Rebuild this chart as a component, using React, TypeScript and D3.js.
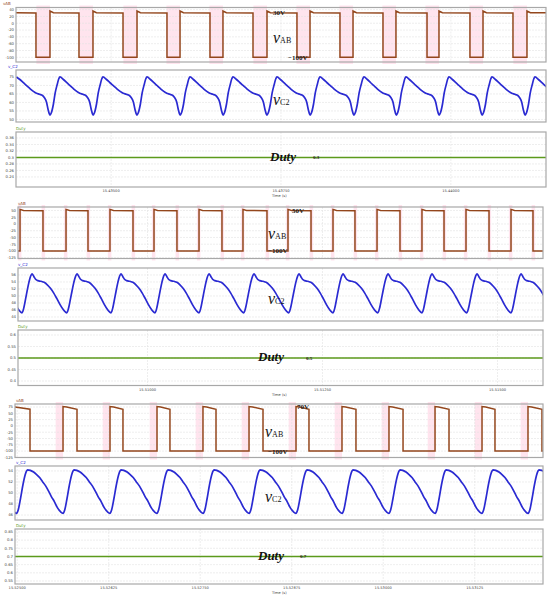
import * as d3 from 'd3'
import React from 'react'

type Pt = [number, number]

// ---- group 1 : duty 0.3 (time in ms from window start) ----
const g1TimeTicks = [1.4, 3.9, 6.4]
const g1TimeLabels = ['15.43500', '15.43750', '15.44000']
const g1Rises = [0.5, 1.133, 1.781, 2.414, 3.046, 3.694, 4.327, 4.96, 5.592, 6.225, 6.873, 7.52]
const g1Falls = [0.294, 0.927, 1.575, 2.222, 2.855, 3.488, 4.135, 4.768, 5.401, 6.049, 6.681, 7.314]
const g1High = [36, 31, 30] // after rise, settled, before fall
const g1Low = -100
const g1Peaks = [0.006, 0.647, 1.28, 1.928, 2.561, 3.193, 3.841, 4.474, 5.121, 5.739, 6.372, 7.005, 7.638]
const g1Shape = [
  [0, 75.0], [0.08, 73.5], [0.16, 71.6], [0.23, 70.0], [0.3, 68.4], [0.39, 66.5], [0.46, 65.4],
  [0.53, 64.8], [0.6, 64.1], [0.64, 62.9], [0.69, 60.3], [0.73, 55.6], [0.77, 52.6], [0.8, 53.8],
  [0.85, 59.1], [0.89, 65.6], [0.94, 70.9], [0.975, 74.1],
]
const g1Duty = 0.3
const g1VabTicks = [40, 20, 0, -20, -40, -60, -80, -100]
const g1Vc2Ticks = [75, 70, 65, 60, 55, 50]
const g1DutyTicks = [0.36, 0.34, 0.32, 0.3, 0.28, 0.26, 0.24]

// ---- group 2 : duty 0.5 ----
const g2TimeTicks = [1.85, 4.35, 6.85]
const g2TimeLabels = ['15.51000', '15.51250', '15.51500']
const g2Rises = [0.029, 0.686, 1.314, 1.943, 2.586, 3.214, 3.857, 4.5, 5.129, 5.771, 6.4, 7.043]
const g2Falls = [0.357, 1.0, 1.643, 2.271, 2.914, 3.557, 4.186, 4.814, 5.457, 6.086, 6.729, 7.357]
const g2High = [54, 50, 49]
const g2Low = -100
const g2Peaks = [-0.429, 0.2, 0.843, 1.471, 2.1, 2.729, 3.371, 4.014, 4.643, 5.286, 5.914, 6.557, 7.186]
const g2Shape = [
  [0, 56.3], [0.04, 55.6], [0.08, 54.8], [0.13, 54.4], [0.2, 54.2], [0.27, 53.9], [0.34, 53.2],
  [0.41, 52.2], [0.48, 50.9], [0.55, 49.3], [0.62, 47.6], [0.69, 46.2], [0.745, 45.4], [0.775, 45.2],
  [0.81, 46.4], [0.87, 50.2], [0.93, 53.9], [0.97, 55.7],
]
const g2Duty = 0.5
const g2VabTicks = [50, 25, 0, -25, -50, -75, -100, -125]
const g2Vc2Ticks = [56, 54, 52, 50, 48, 46, 44]
const g2DutyTicks = [0.6, 0.55, 0.5, 0.45, 0.4]

// ---- group 3 : duty 0.7 ----
const g3TimeTicks = [0.03, 1.28, 2.53, 3.78, 5.03, 6.28]
const g3TimeLabels = ['15.52500', '15.52625', '15.52750', '15.52875', '15.53000', '15.53125']
const g3Rises = [0.656, 1.298, 1.94, 2.568, 3.197, 3.839, 4.467, 5.109, 5.738, 6.38, 7.008]
const g3Falls = [0.205, 0.847, 1.475, 2.117, 2.746, 3.388, 4.016, 4.658, 5.301, 5.929, 6.557, 7.199]
const g3High = [77, 75, 66]
const g3Low = -100
const g3Peaks = [-0.466, 0.171, 0.806, 1.448, 2.09, 2.719, 3.347, 3.989, 4.617, 5.26, 5.888, 6.53, 7.158]
const g3Shape = [
  [0, 54.2], [0.06, 54.1], [0.13, 53.8], [0.19, 53.4], [0.26, 52.8], [0.32, 52.1], [0.39, 51.3],
  [0.45, 50.4], [0.51, 49.4], [0.58, 48.4], [0.64, 47.4], [0.71, 46.6], [0.765, 46.3], [0.8, 46.9],
  [0.85, 49.0], [0.9, 51.4], [0.95, 53.3], [0.98, 54.0],
]
const g3Duty = 0.7
const g3VabTicks = [75, 50, 25, 0, -25, -50, -75, -100, -125]
const g3Vc2Ticks = [54, 52, 50, 48, 46]
const g3DutyTicks = [0.85, 0.8, 0.75, 0.7, 0.65, 0.6, 0.55]

const VAB_COLOR = '#93461c'
const VC2_COLOR = '#2a2ad2'
const DUTY_COLOR = '#5c9a1c'
const SERIF = '"Liberation Serif", "DejaVu Serif", serif'
const SANS = '"DejaVu Sans", sans-serif'

function squareWave(rises: number[], falls: number[], startHigh: boolean, hi: number[], lo: number, tEnd: number): Pt[] {
  const pts: Pt[] = [[0, startHigh ? hi[1] : lo]]
  let high = startHigh
  const edges = [...rises, ...falls].sort((a, b) => a - b)
  edges.forEach(t => {
    if (high) {
      pts.push([t, hi[2]], [t, lo])
    } else {
      pts.push([t, lo], [t, hi[0]], [t + 0.05, hi[1]])
    }
    high = !high
  })
  pts.push([tEnd, high ? hi[1] : lo])
  return pts
}

function cycleWave(peaks: number[], shape: number[][]): Pt[] {
  const pts: Pt[] = []
  peaks.forEach((p, i) => {
    const period = i < peaks.length - 1 ? peaks[i + 1] - p : p - peaks[i - 1]
    shape.forEach(([ph, v]) => pts.push([p + ph * period, v]))
  })
  return pts
}

const groups = [
  {
    id: 'g1', xRange: [16, 546], xDomain: [0, 7.8], timeTicks: g1TimeTicks, timeLabels: g1TimeLabels,
    rises: g1Rises, falls: g1Falls, startHigh: true, high: g1High, low: g1Low, peaks: g1Peaks, shape: g1Shape,
    duty: g1Duty, pink: [0.2, 0, 0, 0],
    panels: [
      { top: 7.5, bottom: 62, yDomain: [-113.8, 46.2], ticks: g1VabTicks, label: 'vAB', labelX: 3 },
      { top: 70, bottom: 122, yDomain: [48.5, 79.1], ticks: g1Vc2Ticks, label: 'v_C2', labelX: 8 },
      { top: 132, bottom: 187, yDomain: [0.209, 0.3785], ticks: g1DutyTicks, label: 'Duty', labelX: 16 },
    ],
    ann: { hiText: '30V', hiX: 273, vabX: 273, loX: 288, vc2X: 273, dutyX: 270, dutyValX: 313, dutyText: '0.3' },
  },
  {
    id: 'g2', xRange: [18, 543], xDomain: [0, 7.5], timeTicks: g2TimeTicks, timeLabels: g2TimeLabels,
    rises: g2Rises, falls: g2Falls, startHigh: false, high: g2High, low: g2Low, peaks: g2Peaks, shape: g2Shape,
    duty: g2Duty, pink: [0.03, 0.02, 0.02, 0.03],
    panels: [
      { top: 207, bottom: 258.5, yDomain: [-128, 62.9], ticks: g2VabTicks, label: 'vAB', labelX: 18 },
      { top: 268, bottom: 321, yDomain: [42.86, 58], ticks: g2Vc2Ticks, label: 'v_C2', labelX: 18 },
      { top: 330, bottom: 385.5, yDomain: [0.3804, 0.6217], ticks: g2DutyTicks, label: 'Duty', labelX: 18 },
    ],
    ann: { hiText: '50V', hiX: 292, vabX: 268, loX: 268, vc2X: 268, dutyX: 258, dutyValX: 306, dutyText: '0.5' },
  },
  {
    id: 'g3', xRange: [15, 543], xDomain: [0, 7.213], timeTicks: g3TimeTicks, timeLabels: g3TimeLabels,
    rises: g3Rises, falls: g3Falls, startHigh: true, high: g3High, low: g3Low, peaks: g3Peaks, shape: g3Shape,
    duty: g3Duty, pink: [0.1, 0, 0, 0],
    panels: [
      { top: 404, bottom: 457.5, yDomain: [-125.4, 86.9], ticks: g3VabTicks, label: 'vAB', labelX: 16 },
      { top: 466, bottom: 520, yDomain: [45.1, 54.9], ticks: g3Vc2Ticks, label: 'v_C2', labelX: 16 },
      { top: 529, bottom: 584, yDomain: [0.5316, 0.868], ticks: g3DutyTicks, label: 'Duty', labelX: 16 },
    ],
    ann: { hiText: '70V', hiX: 297, vabX: 265, loX: 268, vc2X: 265, dutyX: 258, dutyValX: 300, dutyText: '0.7' },
  },
]

const labelColors = [VAB_COLOR, VC2_COLOR, DUTY_COLOR]

function Group({ g }: { g: typeof groups[number] }) {
  const x = d3.scaleLinear().domain(g.xDomain).range(g.xRange)
  const ys = g.panels.map(p => d3.scaleLinear().domain(p.yDomain).range([p.bottom, p.top]))
  const tEnd = g.xDomain[1]
  const vab = squareWave(g.rises, g.falls, g.startHigh, g.high, g.low, tEnd)
  const vc2 = cycleWave(g.peaks, g.shape)
  const duty: Pt[] = [[0, g.duty], [tEnd, g.duty]]

  const sq = d3.line<Pt>().x(d => x(d[0])).y(d => ys[0](d[1]))
  const cv = d3.line<Pt>().x(d => x(d[0])).y(d => ys[1](d[1])).curve(d3.curveMonotoneX)
  const dl = d3.line<Pt>().x(d => x(d[0])).y(d => ys[2](d[1]))

  const [rb, ra, fb, fa] = g.pink
  const bands = [
    ...g.rises.map(r => [r - rb, r + ra]),
    ...g.falls.map(f => [f - fb, f + fa]),
  ].filter(b => b[1] - b[0] > 0)

  const [x0, x1] = g.xRange
  const last = g.panels[2]
  const a = g.ann

  return (
    <g>
      <defs>
        {g.panels.map((p, i) => (
          <clipPath key={i} id={`${g.id}-clip-${i}`}>
            <rect x={x0} y={p.top} width={x1 - x0} height={p.bottom - p.top} />
          </clipPath>
        ))}
      </defs>
      {g.panels.map((p, i) => (
        <g key={i}>
          <rect x={x0} y={p.top} width={x1 - x0} height={p.bottom - p.top} fill="#fff" />
          {i === 0 && bands.map((b, k) => (
            <rect key={k} x={x(b[0])} y={p.top - 2} width={x(b[1]) - x(b[0])} height={p.bottom - p.top + 4}
              fill="#ffb3cf" opacity={0.35} />
          ))}
          {p.ticks.map(t => (
            <g key={t}>
              <line x1={x0} x2={x1} y1={ys[i](t)} y2={ys[i](t)} stroke="#e2e2e2" strokeWidth={0.6} strokeDasharray="2,1" />
              <text x={x0 - 2} y={ys[i](t)} dy="0.35em" textAnchor="end" fontSize={3.8} fontFamily={SANS} fill="#444">{t}</text>
            </g>
          ))}
          {g.timeTicks.map(t => (
            <line key={t} x1={x(t)} x2={x(t)} y1={p.top} y2={p.bottom} stroke="#e2e2e2" strokeWidth={0.6} strokeDasharray="2,1" />
          ))}
          <text x={p.labelX} y={p.top - 2.5} fontSize={4} fontFamily={SANS} fill={labelColors[i]}>{p.label}</text>
        </g>
      ))}
      <path d={sq(vab) ?? ''} fill="none" stroke={VAB_COLOR} strokeWidth={1.5} clipPath={`url(#${g.id}-clip-0)`} />
      <path d={cv(vc2) ?? ''} fill="none" stroke={VC2_COLOR} strokeWidth={1.7} clipPath={`url(#${g.id}-clip-1)`} />
      <path d={dl(duty) ?? ''} fill="none" stroke={DUTY_COLOR} strokeWidth={1.5} clipPath={`url(#${g.id}-clip-2)`} />
      {g.panels.map((p, i) => (
        <rect key={i} x={x0} y={p.top} width={x1 - x0} height={p.bottom - p.top} fill="none" stroke="#a8a8a8" strokeWidth={1.2} />
      ))}
      {g.timeTicks.map((t, k) => (
        <text key={t} x={x(t)} y={last.bottom + 5} textAnchor="middle" fontSize={3.6} fontFamily={SANS} fill="#444">{g.timeLabels[k]}</text>
      ))}
      <text x={272} y={last.bottom + 10} fontSize={3.6} fontFamily={SANS} fill="#444">Time (s)</text>

      {/* annotations */}
      <text x={a.hiX} y={ys[0](g.high[1])} dy="0.35em" fontSize={7} fontWeight="bold" fontFamily={SERIF} fill="#222">{a.hiText}</text>
      <text x={a.vabX} y={(ys[0](g.high[1]) + ys[0](g.low)) / 2 + 8} fontFamily={SERIF} fill="#111">
        <tspan fontSize={16} fontStyle="italic">v</tspan>
        <tspan fontSize={8}>AB</tspan>
      </text>
      <text x={a.loX} y={ys[0](g.low)} dy="0.35em" fontSize={7} fontWeight="bold" fontFamily={SERIF} fill="#222">−100V</text>
      <text x={a.vc2X} y={(g.panels[1].top + g.panels[1].bottom) / 2 + 9} fontFamily={SERIF} fill="#111">
        <tspan fontSize={16} fontStyle="italic">v</tspan>
        <tspan fontSize={8}>C2</tspan>
      </text>
      <text x={a.dutyX} y={ys[2](g.duty) + 3.5} fontSize={13} fontStyle="italic" fontWeight="bold" fontFamily={SERIF} fill="#111">Duty</text>
      <text x={a.dutyValX} y={ys[2](g.duty) + 1.8} fontSize={5} fontWeight="bold" fontFamily={SERIF} fill="#222">{a.dutyText}</text>
    </g>
  )
}

const App = () => {
  return (
    <svg width={550} height={597} style={{ position: 'absolute', left: 0, top: 0, background: '#fff' }}>
      {groups.map(g => <Group key={g.id} g={g} />)}
    </svg>
  )
}

export default App
